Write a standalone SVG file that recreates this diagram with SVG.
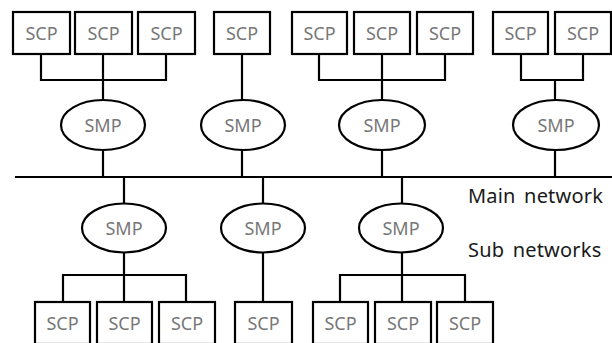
<svg xmlns="http://www.w3.org/2000/svg" width="612" height="343" viewBox="0 0 612 343">
<style>
.box{fill:#fff;stroke:#000;stroke-width:2.2}
.ell{fill:#fff;stroke:#000;stroke-width:2.2}
.ln{fill:none;stroke:#000;stroke-width:2.2}
.t{font-family:"Noto Sans","Open Sans",sans-serif;font-size:18px;fill:#777;text-anchor:middle}
.lbl{font-family:"Noto Sans","Open Sans",sans-serif;font-size:20px;fill:#1a1a1a;letter-spacing:0.2px;word-spacing:3px}
</style>
<rect width="612" height="343" fill="#fff"/>
<g id="connectors">
<path class="ln" d="M15 177H612"/>
<path class="ln" d="M41 54V80H166V54M103 54V100M103 150V177"/>
<path class="ln" d="M242 54V100M242 150V177"/>
<path class="ln" d="M319 54V80H445V54M382 54V100M382 150V177"/>
<path class="ln" d="M521 54V80H583V54M555 80V100M555 150V177"/>
<path class="ln" d="M124 177V204M124 253V275M63 302V275H186V302M124 275V302"/>
<path class="ln" d="M263 177V204M263 253V302"/>
<path class="ln" d="M402 177V204M402 253V275M340 302V275H465V302M402 275V302"/>
</g>
<g id="scp1"><rect class="box" x="13" y="12" width="57" height="42"/><text class="t" x="41.5" y="39.5">SCP</text></g>
<g id="scp2"><rect class="box" x="75" y="12" width="57" height="42"/><text class="t" x="103.5" y="39.5">SCP</text></g>
<g id="scp3"><rect class="box" x="138" y="12" width="57" height="42"/><text class="t" x="166.5" y="39.5">SCP</text></g>
<g id="scp4"><rect class="box" x="214" y="12" width="56" height="42"/><text class="t" x="242" y="39.5">SCP</text></g>
<g id="scp5"><rect class="box" x="292" y="12" width="55" height="42"/><text class="t" x="319.5" y="39.5">SCP</text></g>
<g id="scp6"><rect class="box" x="354" y="12" width="56" height="42"/><text class="t" x="382" y="39.5">SCP</text></g>
<g id="scp7"><rect class="box" x="417" y="12" width="56" height="42"/><text class="t" x="445" y="39.5">SCP</text></g>
<g id="scp8"><rect class="box" x="493" y="12" width="55" height="42"/><text class="t" x="520.5" y="39.5">SCP</text></g>
<g id="scp9"><rect class="box" x="555" y="12" width="56" height="42"/><text class="t" x="583" y="39.5">SCP</text></g>
<g id="smp1"><ellipse class="ell" cx="103" cy="125" rx="42" ry="25"/><text class="t" x="103" y="131.5">SMP</text></g>
<g id="smp2"><ellipse class="ell" cx="243" cy="125" rx="42" ry="25"/><text class="t" x="243" y="131.5">SMP</text></g>
<g id="smp3"><ellipse class="ell" cx="382" cy="125" rx="43" ry="25"/><text class="t" x="382" y="131.5">SMP</text></g>
<g id="smp4"><ellipse class="ell" cx="556" cy="125" rx="43" ry="25"/><text class="t" x="556" y="131.5">SMP</text></g>
<g id="smp5"><ellipse class="ell" cx="124" cy="228" rx="42" ry="24.5"/><text class="t" x="124" y="234.5">SMP</text></g>
<g id="smp6"><ellipse class="ell" cx="263" cy="228" rx="42" ry="24.5"/><text class="t" x="263" y="234.5">SMP</text></g>
<g id="smp7"><ellipse class="ell" cx="401" cy="228" rx="42" ry="24.5"/><text class="t" x="401" y="234.5">SMP</text></g>
<g id="scp10"><rect class="box" x="35" y="302" width="55" height="42"/><text class="t" x="62.5" y="329.5">SCP</text></g>
<g id="scp11"><rect class="box" x="97" y="302" width="55" height="42"/><text class="t" x="124.5" y="329.5">SCP</text></g>
<g id="scp12"><rect class="box" x="159" y="302" width="56" height="42"/><text class="t" x="187" y="329.5">SCP</text></g>
<g id="scp13"><rect class="box" x="235" y="302" width="57" height="42"/><text class="t" x="263.5" y="329.5">SCP</text></g>
<g id="scp14"><rect class="box" x="313" y="302" width="55" height="42"/><text class="t" x="340.5" y="329.5">SCP</text></g>
<g id="scp15"><rect class="box" x="375" y="302" width="56" height="42"/><text class="t" x="403" y="329.5">SCP</text></g>
<g id="scp16"><rect class="box" x="437" y="302" width="56" height="42"/><text class="t" x="465" y="329.5">SCP</text></g>
<g id="labels">
<text class="lbl" x="468" y="203">Main network</text>
<text class="lbl" x="468" y="257">Sub networks</text>
</g>
</svg>
